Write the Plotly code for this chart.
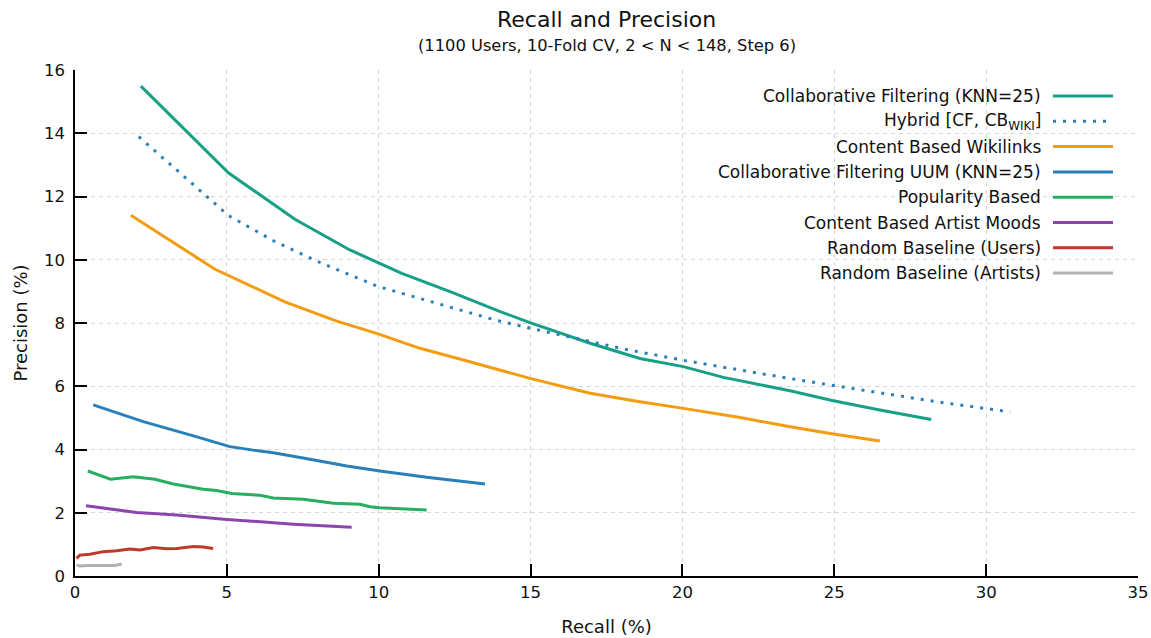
import plotly.graph_objects as go

# ---------------- data ----------------
cf_x = [2.17, 5.05, 7.24, 9.05, 10.76, 12.35, 14.0, 14.98, 16.96, 18.6, 20.03, 21.35, 23.54, 24.97, 26.5, 28.19]
cf_y = [15.49, 12.75, 11.28, 10.31, 9.57, 8.99, 8.36, 8.01, 7.36, 6.88, 6.62, 6.28, 5.86, 5.54, 5.25, 4.95]

hyb_x = [2.1, 5.05, 6.59, 8.12, 9.99, 12.24, 13.85, 15.15, 16.79, 18.11, 20.09, 22.06, 23.38, 25.06, 26.73, 28.37, 30.79]
hyb_y = [13.89, 11.40, 10.57, 9.89, 9.15, 8.52, 8.09, 7.80, 7.44, 7.17, 6.81, 6.48, 6.27, 6.01, 5.76, 5.51, 5.19]

wiki_x = [1.84, 4.61, 6.91, 8.62, 9.93, 11.36, 12.79, 13.66, 14.98, 16.96, 18.6, 20.03, 21.9, 23.54, 24.97, 26.5]
wiki_y = [11.41, 9.70, 8.67, 8.06, 7.67, 7.20, 6.83, 6.60, 6.25, 5.78, 5.51, 5.30, 5.01, 4.72, 4.49, 4.27]

uum_x = [0.6, 2.25, 3.9, 5.1, 5.87, 6.53, 7.74, 8.95, 10.04, 11.58, 13.5]
uum_y = [5.41, 4.88, 4.43, 4.09, 3.98, 3.90, 3.69, 3.48, 3.32, 3.12, 2.91]

pop_x = [0.42, 1.17, 1.92, 2.63, 3.24, 4.22, 4.66, 5.16, 6.09, 6.53, 7.52, 7.96, 8.51, 9.38, 9.71, 10.04, 11.58]
pop_y = [3.32, 3.06, 3.14, 3.06, 2.91, 2.74, 2.70, 2.61, 2.55, 2.47, 2.43, 2.38, 2.30, 2.27, 2.19, 2.16, 2.09]

moods_x = [0.36, 2.03, 3.35, 5.0, 7.19, 9.11]
moods_y = [2.22, 2.01, 1.93, 1.79, 1.64, 1.54]

randu_x = [0.05, 0.16, 0.49, 0.93, 1.37, 1.81, 2.14, 2.58, 3.02, 3.35, 3.9, 4.22, 4.55]
randu_y = [0.56, 0.66, 0.69, 0.77, 0.80, 0.85, 0.82, 0.90, 0.86, 0.87, 0.93, 0.92, 0.87]

randa_x = [0.05, 0.16, 0.4, 0.7, 1.0, 1.3, 1.54]
randa_y = [0.35, 0.32, 0.33, 0.32, 0.33, 0.33, 0.38]

names = [
    "Collaborative Filtering (KNN=25)",
    "Hybrid [CF, CB<sub>WIKI</sub>]",
    "Content Based Wikilinks",
    "Collaborative Filtering UUM (KNN=25)",
    "Popularity Based",
    "Content Based Artist Moods",
    "Random Baseline (Users)",
    "Random Baseline (Artists)",
]
colors = ["#16a085", "#2980b9", "#f39c12", "#2980b9", "#27ae60", "#8e44ad", "#c0392b", "#b0b3b5"]
dashes = ["solid", "3px,7px", "solid", "solid", "solid", "solid", "solid", "solid"]
xs = [cf_x, hyb_x, wiki_x, uum_x, pop_x, moods_x, randu_x, randa_x]
ys = [cf_y, hyb_y, wiki_y, uum_y, pop_y, moods_y, randu_y, randa_y]

x_ticks = [0, 5, 10, 15, 20, 25, 30, 35]
y_ticks = [0, 2, 4, 6, 8, 10, 12, 14, 16]

FONT = "DejaVu Sans"

fig = go.Figure()
for name, c, d, x, y in zip(names, colors, dashes, xs, ys):
    fig.add_trace(go.Scatter(x=x, y=y, mode="lines", name=name,
                             line=dict(color=c, width=3, dash=d),
                             showlegend=False))

# geometry: page body margin removed, figure fills the 1151x638 window
FW, FH = 1151, 638
PL, PR, PT, PB = 75, 1138, 70, 576          # plot area in page pixels
L, T = PL, PT
R, B = FW - PR, FH - PB
pw, ph = PR - PL, PB - PT

def px_x(p):
    return (p - PL) / pw

def px_y(p):
    return (PB - p) / ph

shapes = []
annotations = []

# legend box (covers grid)
shapes.append(dict(type="rect", xref="paper", yref="paper",
                   x0=px_x(670), x1=px_x(1125), y0=px_y(285), y1=px_y(84),
                   fillcolor="white", line=dict(width=0), layer="between"))
row0, step = 96, 25.3
for i, (name, c, d) in enumerate(zip(names, colors, dashes)):
    yy = px_y(row0 + i * step)
    annotations.append(dict(text=name, xref="paper", yref="paper", x=px_x(1043), y=yy,
                            xanchor="right", yanchor="middle", showarrow=False,
                            font=dict(family=FONT, size=17, color="#111")))
    shapes.append(dict(type="line", xref="paper", yref="paper",
                       x0=px_x(1053), x1=px_x(1113), y0=yy, y1=yy,
                       line=dict(color=c, width=3, dash=d), layer="above"))

annotations.append(dict(text="Recall and Precision", xref="paper", yref="paper",
                        x=0.5, y=px_y(20), xanchor="center", yanchor="middle", showarrow=False,
                        font=dict(family=FONT, size=22, color="#111")))
annotations.append(dict(text="(1100 Users, 10-Fold CV, 2 &lt; N &lt; 148, Step 6)", xref="paper", yref="paper",
                        x=0.5, y=px_y(45), xanchor="center", yanchor="middle", showarrow=False,
                        font=dict(family=FONT, size=16.3, color="#111")))

axis_common = dict(
    showline=True, linecolor="black", linewidth=1.5,
    ticks="inside", ticklen=12, tickwidth=1.5, tickcolor="black",
    showgrid=True, gridcolor="#d5d5d5", gridwidth=1, griddash="4px,4px",
    zeroline=False, mirror=False, automargin=False,
    tickfont=dict(family=FONT, size=16.5, color="#111"),
)

fig.update_layout(
    width=FW, height=FH,
    margin=dict(l=L, r=R, t=T, b=B, pad=0),
    paper_bgcolor="white", plot_bgcolor="white",
    font=dict(family=FONT, color="#111"),
    xaxis=dict(range=[0, 35], tickvals=x_ticks, ticktext=[str(v) for v in x_ticks],
               title=dict(text="Recall (%)", font=dict(family=FONT, size=18), standoff=20),
               **axis_common),
    yaxis=dict(range=[0, 16], tickvals=y_ticks, ticktext=[str(v) for v in y_ticks],
               ticklabelstandoff=5,
               title=dict(text="Precision (%)", font=dict(family=FONT, size=18), standoff=12),
               **axis_common),
    shapes=shapes,
    annotations=annotations,
    showlegend=False,
)

fig.write_html("out.html",
               config={"displayModeBar": False},
               post_script="document.body.style.margin='0';document.body.style.overflow='hidden';")
